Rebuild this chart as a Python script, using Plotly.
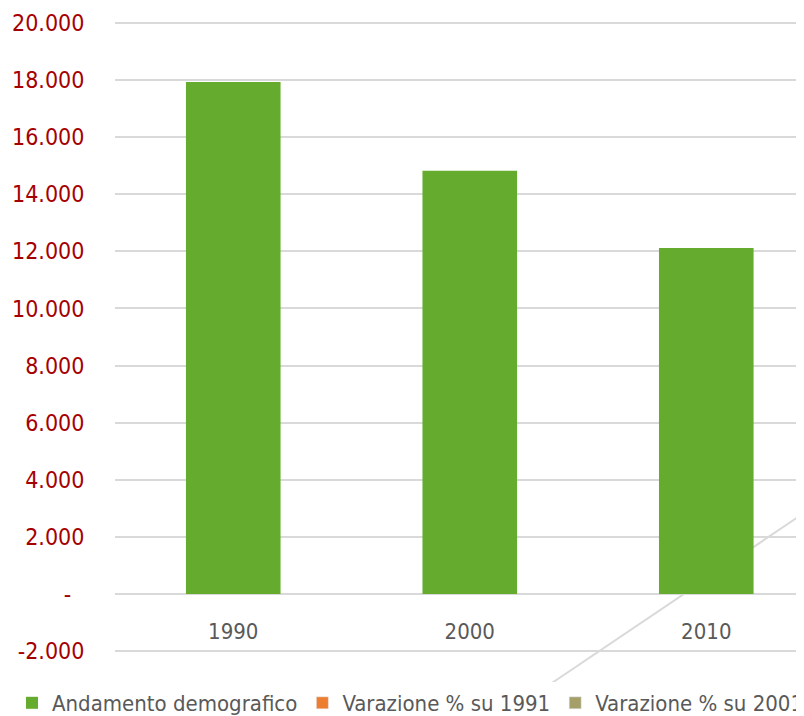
import plotly.graph_objects as go

years = ["1990", "2000", "2010"]
andamento = [17930, 14820, 12120]
var_1991 = [None, None, None]
var_2001 = [None, None, None]
y_tickvals = [-2000, 0, 2000, 4000, 6000, 8000, 10000, 12000, 14000, 16000, 18000, 20000]
y_ticktext = ["-2.000", "-\u2007", "2.000", "4.000", "6.000", "8.000", "10.000", "12.000",
              "14.000", "16.000", "18.000", "20.000"]

FONT = "DejaVu Sans Condensed, DejaVu Sans, sans-serif"

# page body has an 8px margin; plot area in figure pixels (2px pad so edge gridlines show)
L, T, B_EDGE, W = 107, 13, 645, 697
H = B_EDGE - T

fig = go.Figure()
fig.add_trace(go.Bar(x=years, y=andamento, name="Andamento demografico",
                     marker=dict(color="#65AC2E", line=dict(width=0)), width=0.4))
fig.add_trace(go.Bar(x=years, y=var_1991, name="Varazione % su 1991",
                     marker=dict(color="#ED7D31")))
fig.add_trace(go.Bar(x=years, y=var_2001, name="Varazione % su 2001",
                     marker=dict(color="#A5A069")))

# decorative light diagonal line behind bars
fig.add_shape(type="line", xref="paper", yref="paper",
              x0=(495 - L) / W, y0=(B_EDGE - 708) / H,
              x1=(796 - L) / W, y1=(B_EDGE - 505) / H,
              line=dict(color="#D9D9D9", width=2), layer="below")

fig.update_layout(
    width=804, height=716,
    margin=dict(l=L, r=0, t=T, b=716 - B_EDGE, autoexpand=False),
    plot_bgcolor="white", paper_bgcolor="white",
    barmode="overlay",
    font=dict(family=FONT, size=22, color="#595959"),
    showlegend=True,
    legend=dict(orientation="h", x=-103 / W, xanchor="left", y=-50 / H, yanchor="middle",
                font=dict(size=22, color="#595959"), itemwidth=30,
                traceorder="normal"),
    xaxis=dict(type="category", range=[-0.5, 2.447], showgrid=False,
               showline=False, zeroline=False, automargin=False,
               anchor="free", position=2070 / 22140,
               ticks="outside", ticklen=18, tickcolor="rgba(0,0,0,0)",
               tickfont=dict(size=22, color="#595959")),
    yaxis=dict(range=[-2070, 20070], tickvals=y_tickvals, ticktext=y_ticktext,
               showgrid=True, gridcolor="#D9D9D9", gridwidth=2,
               zeroline=False, showline=False, automargin=False,
               ticks="outside", ticklen=25, tickcolor="rgba(0,0,0,0)",
               tickfont=dict(size=23, color="#A50000")),
)

fig.write_html("out.html")
